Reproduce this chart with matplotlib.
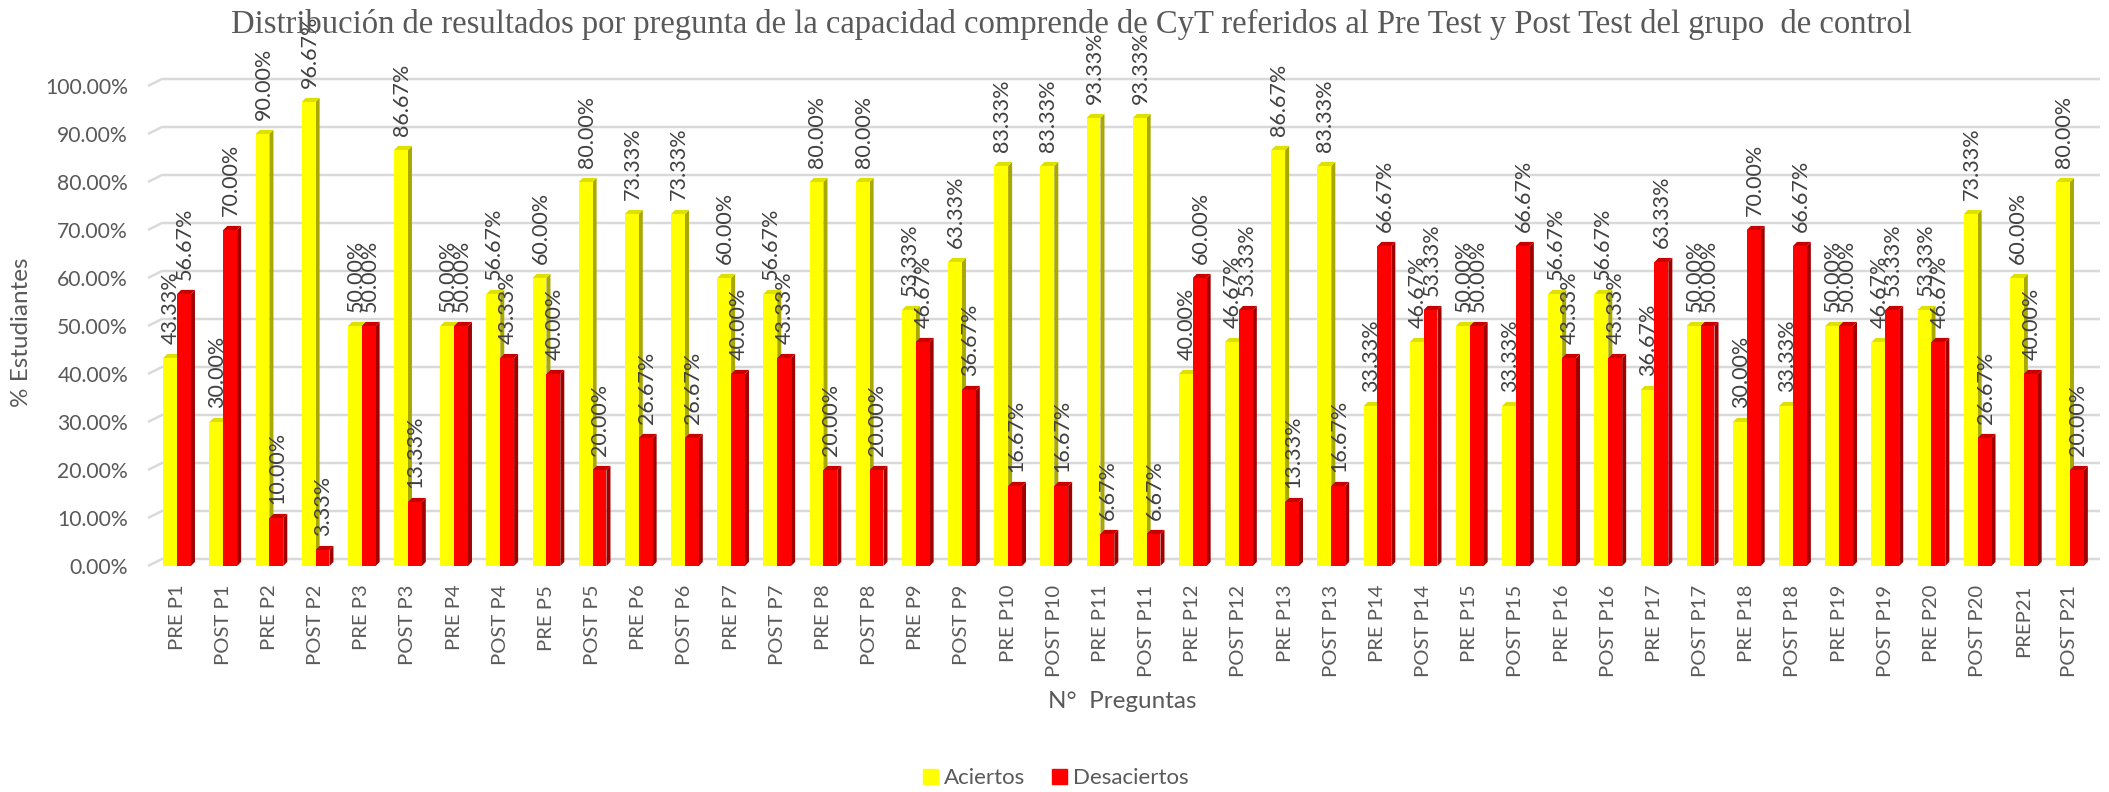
import numpy as np
import matplotlib
matplotlib.use("Agg")
import matplotlib.pyplot as plt
from matplotlib.patches import Patch

plt.rcParams['font.family'] = ['Lato', 'DejaVu Sans']

# categorias y valores (en %)
categorias = ["PRE P1", "POST P1", "PRE P2", "POST P2", "PRE P3", "POST P3",
              "PRE P4", "POST P4", "PRE P5", "POST P5", "PRE P6", "POST P6",
              "PRE P7", "POST P7", "PRE P8", "POST P8", "PRE P9", "POST P9",
              "PRE P10", "POST P10", "PRE P11", "POST P11", "PRE P12", "POST P12",
              "PRE P13", "POST P13", "PRE P14", "POST P14", "PRE P15", "POST P15",
              "PRE P16", "POST P16", "PRE P17", "POST P17", "PRE P18", "POST P18",
              "PRE P19", "POST P19", "PRE P20", "POST P20", "PREP21", "POST P21"]
aciertos = [43.33, 30.00, 90.00, 96.67, 50.00, 86.67, 50.00, 56.67, 60.00, 80.00,
            73.33, 73.33, 60.00, 56.67, 80.00, 80.00, 53.33, 63.33, 83.33, 83.33,
            93.33, 93.33, 40.00, 46.67, 86.67, 83.33, 33.33, 46.67, 50.00, 33.33,
            56.67, 56.67, 36.67, 50.00, 30.00, 33.33, 50.00, 46.67, 53.33, 73.33,
            60.00, 80.00]
desaciertos = [56.67, 70.00, 10.00, 3.33, 50.00, 13.33, 50.00, 43.33, 40.00, 20.00,
               26.67, 26.67, 40.00, 43.33, 20.00, 20.00, 46.67, 36.67, 16.67, 16.67,
               6.67, 6.67, 60.00, 53.33, 13.33, 16.67, 66.67, 53.33, 50.00, 66.67,
               43.33, 43.33, 63.33, 50.00, 70.00, 66.67, 50.00, 53.33, 46.67, 26.67,
               40.00, 20.00]
series = ["Aciertos", "Desaciertos"]

gris = '#595959'
W, H = 2109, 792
fig = plt.figure(figsize=(W / 100, H / 100), dpi=100)
ax = fig.add_axes([148 / W, (H - 566) / H, (2100 - 148) / W, 480 / H])

x = np.arange(len(categorias))
xmin, xmax = -0.63, 41.65
ax.set_xlim(xmin, xmax)
ax.set_ylim(0, 1)

# efecto 3D
dx, dy = 0.087, 0.0085
off = 0.0146

# lineas de division (pared del fondo)
for v in np.arange(0, 1.01, 0.1):
    ax.plot([xmin, xmin + 0.3, xmax], [v, v + off, v + off], color='#D9D9D9',
            lw=1.8, zorder=0, clip_on=False, solid_capstyle='butt')

w = 0.30
estilos = [(aciertos, -w, '#FFFF00', '#A8A800', '#E0E000'),
           (desaciertos, 0.0, '#FF0000', '#A00000', '#C80000')]
for vals, shift, c_front, c_side, c_top in estilos:
    v = np.array(vals) / 100
    for xi, vi in zip(x, v):
        xl = xi + shift
        xr = xl + w
        ax.fill([xr, xr + dx, xr + dx, xr], [0, dy, vi + dy, vi], color=c_side,
                lw=0, zorder=2, clip_on=False)
        ax.fill([xl, xr, xr + dx, xl + dx], [vi, vi, vi + dy, vi + dy], color=c_top,
                lw=0, zorder=2, clip_on=False)
    ax.bar(x + shift, v, width=w, align='edge', color=c_front, lw=0, zorder=3)
    for xi, vi, val in zip(x, v, vals):
        ax.text(xi + shift + w / 2 + 0.02, vi + 0.03, f"{val:.2f}%", rotation=90,
                ha='center', va='bottom', fontsize=15.5, color='#404040', zorder=5)

ax.set_yticks(np.arange(0, 1.01, 0.1))
ax.set_yticklabels([f"{t * 100:.2f}%" for t in np.arange(0, 1.01, 0.1)])
ax.set_xticks(x)
ax.set_xticklabels(categorias, rotation=90, va='top', ha='center')
ax.tick_params(axis='y', length=0, pad=14.4, labelsize=15.2, labelcolor=gris)
ax.tick_params(axis='x', length=0, pad=13.5, labelsize=14.6, labelcolor=gris)
for s in ax.spines.values():
    s.set_visible(False)

fig.text(0.508, 1 - 33 / H,
         "Distribución de resultados por pregunta de la capacidad comprende de CyT "
         "referidos al Pre Test y Post Test del grupo  de control",
         ha='center', va='baseline', family='Liberation Serif', fontsize=23.5, color=gris)
fig.text(22 / W, 1 - 332 / H, "% Estudiantes", rotation=90, ha='center', va='center',
         fontsize=17.5, color=gris)
fig.text(1122 / W, 1 - 702 / H, "N°  Preguntas", ha='center', va='center',
         fontsize=17.5, color=gris)

handles = [Patch(color='#FFFF00'), Patch(color='#FF0000')]
fig.legend(handles, series, loc='center', bbox_to_anchor=(1056 / W, 1 - 778 / H), ncol=2,
           frameon=False, fontsize=16, handlelength=0.65, handleheight=0.65,
           handletextpad=0.3, columnspacing=1.2, labelcolor=gris)

fig.savefig('out.png', dpi=100)
